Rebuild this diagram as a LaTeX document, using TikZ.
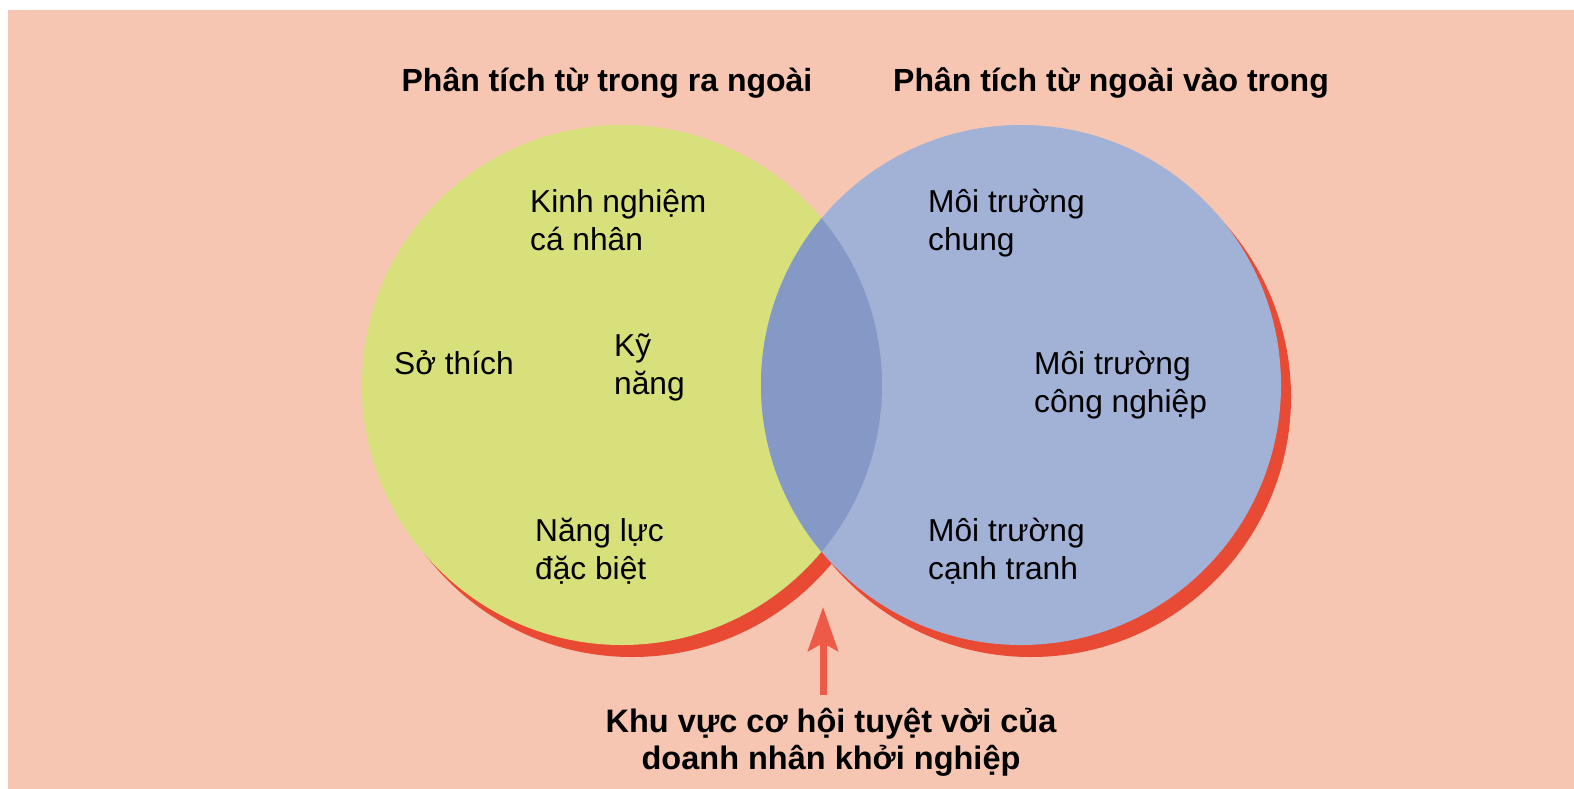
\documentclass[tikz,border=0pt]{standalone}
\usepackage{fontspec}
\setmainfont{Liberation Sans}
\usetikzlibrary{arrows.meta}
\definecolor{bgsalmon}{HTML}{F6C6B2}
\definecolor{circgreen}{HTML}{D7E07A}
\definecolor{circblue}{HTML}{A2B1D6}
\definecolor{lensblue}{HTML}{8599C6}
\definecolor{shadowred}{HTML}{E84A33}
\definecolor{arrowred}{HTML}{EE5A48}
\begin{document}
\begin{tikzpicture}[x=1pt,y=-1pt,
  titletext/.style={font=\fontsize{32}{37}\selectfont\bfseries, anchor=base, align=center, inner sep=0pt},
  bottomtext/.style={font=\fontsize{32.5}{37}\selectfont\bfseries, anchor=base, align=center, inner sep=0pt},
  bodytext/.style={font=\fontsize{31.7}{38}\selectfont, anchor=base west, align=left, inner sep=0pt},
  pointer/.style={draw=arrowred, line width=7pt, -{Stealth[length=44pt, width=30pt, inset=8pt]}}]
\useasboundingbox (0,0) rectangle (1574,788);
\fill[white] (-5,-5) rectangle (1580,795);
\fill[bgsalmon] (8,10) rectangle (1580,795);
% circles
\coordinate (cl) at (622,385);
\coordinate (cr) at (1021,385);
\fill[shadowred] ([shift={(10,12)}]cl) circle[radius=260pt];
\fill[shadowred] ([shift={(10,12)}]cr) circle[radius=260pt];
\fill[circgreen] (cl) circle[radius=260pt];
\fill[circblue] (cr) circle[radius=260pt];
\begin{scope}
  \clip (cl) circle[radius=260pt];
  \fill[lensblue] (cr) circle[radius=260pt];
\end{scope}
% titles
\node[titletext] (tleft) at (607,91) {Phân tích từ trong ra ngoài};
\node[titletext] (tright) at (1111,91) {Phân tích từ ngoài vào trong};
% left circle texts (anchor on last line's baseline)
\node[bodytext] (kinh) at (530,250) {Kinh nghiệm\\cá nhân};
\node[bodytext] (sothich) at (394,374) {Sở thích};
\node[bodytext] (kynang) at (614,394) {Kỹ\\năng};
\node[bodytext] (nangluc) at (535,579) {Năng lực\\đặc biệt};
% right circle texts
\node[bodytext] (chung) at (928,250) {Môi trường\\chung};
\node[bodytext] (congnghiep) at (1034,412) {Môi trường\\công nghiệp};
\node[bodytext] (canhtranh) at (928,579) {Môi trường\\cạnh tranh};
% bottom label and arrow
\node[bottomtext] (khuvuc) at (831,769) {Khu vực cơ hội tuyệt vời của\\doanh nhân khởi nghiệp};
\coordinate (tip) at (823,607);
\coordinate (tail) at (823,695);
\draw[pointer] (tail) -- (tip);
\end{tikzpicture}
\end{document}
